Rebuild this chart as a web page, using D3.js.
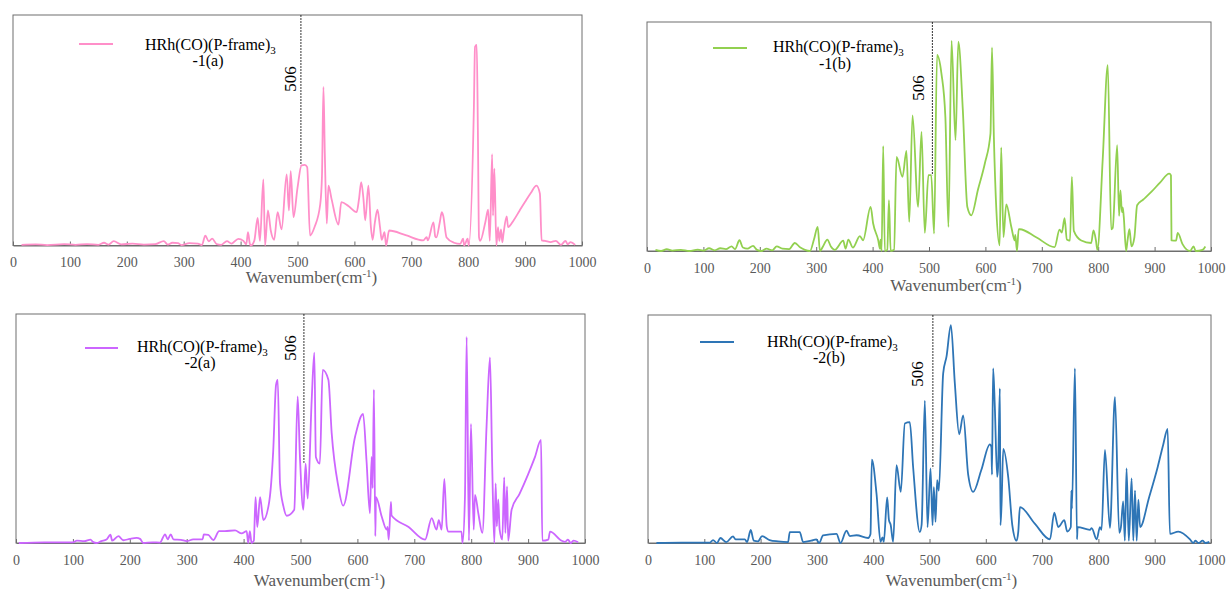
<!DOCTYPE html>
<html>
<head>
<meta charset="utf-8">
<script src="https://cdn.jsdelivr.net/npm/d3@7"></script>
<style>
    body { margin: 0; background: #fff; }
    svg { display: block; }
    svg text { font-family: 'Liberation Serif', 'Times New Roman', serif; }
</style>
</head>
<body>
<div id="chart"></div>
<script>
//
// four spectra panels, HRh(CO)(P-frame)3
//

// x ticks (cm-1)
var xTicks = [0, 100, 200, 300, 400, 500, 600, 700, 800, 900, 1000];
var markerValue = 506;
var seriesNames = ['-1(a)', '-1(b)', '-2(a)', '-2(b)'];
var seriesColors = ['#ff8fc9', '#92d050', '#cc66ff', '#2e75b6'];
// curve height at the 506 marker (relative intensity)
var markerTops = [0.348, 0.331, 0.35, 0.328];

// [wavenumber, relative intensity]
var spec1a = [[15,0.003],[40,0.005],[60,0.002],[90,0.006],[110,0.003],[130,0.006],[150,0.003],[160,0.012],[168,0.004],[177,0.019],[190,0.005],[210,0.008],[230,0.004],[250,0.006],[265,0.019],[272,0.004],[280,0.012],[290,0.01],[296,0.002],[310,0.01],[325,0.008],[332,0.002],[338,0.043],[344,0.018],[350,0.03],[358,0.006],[366,0.003],[376,0.019],[384,0.008],[396,0.029],[405,0.02],[410,0.005],[413,0.058],[416,0.01],[418,0.0],[424,0.02],[430,0.12],[434,0.02],[440,0.287],[443,0.0],[448,0.152],[453,0.065],[459,0.025],[465,0.145],[472,0.07],[481,0.309],[485,0.152],[488,0.323],[493,0.123],[500,0.25],[507,0.348],[513,0.35],[517,0.34],[522,0.043],[530,0.08],[540,0.18],[543,0.3],[545.6,0.688],[548,0.4],[551.5,0.095],[554.4,0.26],[560,0.2],[572,0.091],[577,0.188],[590,0.17],[604,0.145],[608,0.2],[612,0.275],[616,0.2],[619,0.109],[624.6,0.26],[629,0.08],[632,0.025],[636,0.1],[640.5,0.155],[645,0.08],[648,0.025],[653,0.058],[655.7,0.0],[661,0.065],[690,0.045],[721,0.022],[727,0.036],[729,0.022],[739,0.10],[742,0.04],[744,0.035],[750,0.1],[753.6,0.145],[756,0.13],[762,0.035],[775,0.012],[786,0.007],[791,0.03],[793,0.0],[799,0.03],[801,0.0],[810,0.6],[812,0.862],[815,0.87],[817,0.5],[819,0.036],[821,0.02],[830,0.1],[835,0.155],[838,0.02],[842,0.396],[843.6,0.13],[846,0.333],[849.5,0.0],[852.4,0.08],[854.7,0.02],[857.6,0.07],[860,0.014],[862,0.05],[867.7,0.126],[870,0.08],[880,0.11],[890,0.15],[900,0.19],[910,0.228],[920,0.26],[926,0.225],[929,0.022],[935,0.02],[945,0.015],[954,0.02],[963,0.003],[971,0.02],[975,0.005],[980,0.015],[988,0.003]];

var spec1b = [[15,0.005],[25,0.0],[35,0.008],[45,0.002],[60,0.005],[75,0.0],[90,0.006],[100,0.002],[110,0.012],[120,0.003],[130,0.012],[140,0.008],[150,0.02],[156,0.008],[164,0.047],[170,0.015],[178,0.01],[188,0.022],[195,0.005],[203,0.0],[212,0.01],[222,0.003],[230,0.02],[240,0.01],[252,0.008],[262,0.035],[272,0.015],[280,0.005],[289,0.0],[296,0.05],[302.6,0.105],[306.7,0.0],[312,0.02],[319.7,0.05],[326,0.02],[333,0.005],[348,0.045],[352,0.01],[357,0.05],[365,0.015],[377.5,0.065],[383,0.047],[396.5,0.193],[401,0.12],[410,0.047],[413,0.01],[414,0.05],[416,0.0],[418.8,0.458],[421.7,0.0],[426,0.005],[429,0.222],[432,0.0],[438,0.005],[442.5,0.411],[453,0.324],[460,0.437],[465,0.127],[470.8,0.592],[480.7,0.193],[486.7,0.52],[492.6,0.079],[499,0.331],[504,0.331],[509,0.076],[514.3,0.856],[522,0.776],[529,0.586],[534.5,0.105],[540,0.918],[547,0.484],[552,0.914],[560,0.615],[568,0.192],[575,0.156],[587,0.27],[599,0.382],[609,0.513],[611.7,0.889],[615,0.5],[619.5,0.176],[625.3,0.025],[628,0.452],[632,0.061],[637,0.204],[646,0.105],[652,0.046],[653,0.07],[656,0.0],[659,0.095],[661,0.095],[690,0.06],[722.7,0.017],[731.5,0.093],[735.5,0.08],[740.4,0.143],[744.4,0.05],[750,0.045],[753.3,0.324],[756.8,0.088],[770,0.046],[787.6,0.035],[791.6,0.09],[796,0.046],[798.5,0.005],[808,0.4],[817,0.812],[823,0.095],[825.7,0.1],[833.6,0.462],[837,0.153],[839.5,0.265],[842,0.17],[843.5,0.19],[845.3,0.15],[849.5,0.0],[852,0.046],[855.4,0.095],[859,0.02],[864.2,0.06],[869,0.2],[880,0.225],[895,0.26],[910,0.3],[926,0.338],[929,0.33],[930,0.046],[938,0.045],[941,0.079],[949.5,0.03],[963,0.0],[969,0.02],[973,0.0],[985,0.005],[990,0.02]];

var spec2a = [[5,0.0],[50,0.003],[100,0.003],[107,0.01],[120,0.008],[131,0.015],[135,0.005],[142,0.0],[150,0.008],[159,0.015],[166,0.036],[169,0.01],[180,0.03],[188.6,0.012],[200,0.018],[212,0.022],[218,0.018],[223.7,0.0],[240,0.003],[253,0.002],[262,0.038],[266.5,0.016],[272,0.038],[276.5,0.016],[290,0.014],[300,0.008],[311.5,0.016],[328,0.016],[330,0.038],[338,0.035],[346.8,0.013],[357,0.052],[367,0.052],[385,0.055],[396.6,0.042],[405.4,0.052],[408,0.0],[411,0.052],[414,0.0],[418,0.01],[421,0.2],[424,0.07],[429,0.2],[434.7,0.1],[445,0.18],[452,0.4],[457,0.69],[460,0.712],[464,0.26],[470,0.16],[475.7,0.119],[489,0.145],[495,0.64],[499,0.376],[505,0.145],[509,0.347],[512.6,0.194],[519.7,0.626],[524.3,0.831],[527,0.376],[534,0.347],[539,0.756],[549,0.713],[554.8,0.48],[566.5,0.247],[575,0.163],[596,0.465],[610,0.564],[616,0.36],[622,0.13],[625,0.376],[626.8,0.24],[629,0.67],[631.5,0.03],[632.6,0.2],[642.7,0.116],[651.5,0.058],[653,0.07],[655,0.015],[659,0.18],[660,0.12],[690,0.07],[719,0.015],[730.6,0.109],[739,0.058],[743,0.1],[748,0.058],[752.8,0.28],[757,0.073],[760,0.05],[783,0.05],[784.7,0.0],[789,0.2],[792,0.9],[796,0.01],[799.6,0.52],[804.4,0.058],[806.7,0.21],[812.5,0.13],[819.6,0.044],[827,0.51],[833,0.81],[837,0.33],[840.6,0.0],[843,0.26],[845,0.073],[847.6,0.19],[850,0.058],[854.6,0.015],[858,0.287],[860,0.044],[863,0.247],[865,0.01],[871,0.145],[885,0.215],[900,0.3],[912,0.375],[922.7,0.45],[925,0.01],[935.5,0.015],[938.5,0.05],[959,0.01],[965,0.005],[970,0.015],[975,0.0],[980,0.01],[988,0.003]];

var spec2b = [[15,0.0],[60,0.002],[110,0.002],[115.5,0.013],[122.6,0.0],[128.6,0.022],[139,0.004],[151,0.029],[155.5,0.016],[172,0.016],[176,0.004],[182.5,0.057],[187.8,0.01],[195.4,0.007],[202.6,0.03],[216,0.013],[231,0.007],[248.8,0.004],[251.8,0.048],[269.6,0.048],[275.5,0.004],[290,0.01],[299,0.016],[303.9,0.0],[311,0.033],[334.8,0.04],[342,0.0],[352.6,0.054],[358.5,0.03],[370.4,0.034],[391,0.022],[395.2,0.04],[397.5,0.366],[405.9,0.216],[413,0.005],[416.5,0.025],[418.8,0.005],[424.8,0.2],[428,0.1],[431,0.08],[435.4,0.005],[441.4,0.341],[449,0.224],[456.2,0.524],[465,0.53],[471,0.33],[482.8,0.048],[486,0.08],[491.7,0.624],[496.5,0.07],[501.8,0.327],[505.4,0.078],[507.7,0.245],[510.7,0.093],[513.6,0.276],[516.6,0.23],[524.3,0.744],[530.2,0.817],[538,0.956],[545,0.7],[552.7,0.477],[559.8,0.56],[568.7,0.3],[577.6,0.224],[592,0.32],[607.2,0.433],[610,0.42],[611,0.3],[613,0.766],[616,0.6],[620.2,0.29],[621.8,0.33],[625,0.678],[626,0.078],[628,0.17],[631,0.413],[640,0.285],[647,0.08],[654.7,0.01],[657.7,0.05],[660.6,0.157],[687,0.085],[714,0.016],[721.6,0.133],[728.7,0.07],[739.4,0.1],[744.6,0.05],[751,0.07],[752,0.23],[753,0.15],[758.3,0.766],[762,0.016],[763,0.07],[785,0.058],[788,0.065],[797,0.016],[802.7,0.07],[805.6,0.058],[811.6,0.408],[820.5,0.066],[829.4,0.64],[837,0.045],[840,0.07],[844,0.183],[847,0.01],[850,0.327],[854,0.01],[859,0.283],[862,0.01],[865,0.23],[868,0.01],[871,0.19],[874,0.07],[890,0.2],[905,0.33],[915,0.43],[923,0.5],[927,0.04],[942,0.05],[962.7,0.016],[968.6,0.0],[972,0.01],[978,0.0],[985,0.01],[990,0.0],[997,0.005]];

var allSpectra = [spec1a, spec1b, spec2a, spec2b];

// layout of each panel (pixel boxes + legend / label offsets)
var panels = [
    { left: 13,  top: 15,  right: 582,  bottom: 245.5, legLine: [66, 100, 29], legText: [132, 35], legText2: [195, 51], mark: [277, 64], axisX: 14, axisY: 277 },
    { left: 647, top: 22,  right: 1211, bottom: 251,   legLine: [66, 100, 26], legText: [126, 30], legText2: [188, 47], mark: [271, 66], axisX: 27, axisY: 285 },
    { left: 16,  top: 314, right: 585,  bottom: 543,   legLine: [69, 102, 34], legText: [121, 38], legText2: [184, 54], mark: [274, 34], axisX: 19, axisY: 580 },
    { left: 648, top: 315, right: 1211, bottom: 543,   legLine: [52, 86, 27],  legText: [119, 32], legText2: [181, 48], mark: [269, 59], axisX: 22, axisY: 580 }
];

var serif = "'Liberation Serif', 'Times New Roman', serif";
var greyText = '#595959';

var svg = d3.select("#chart")
    .append("svg")
    .attr("width", 1226)
    .attr("height", 589)
    .attr("font-family", serif);

function drawPanel(idx) {
    var p = panels[idx];
    var data = allSpectra[idx];

    var x = d3.scaleLinear().domain([0, 1000]).range([p.left, p.right]);
    var y = d3.scaleLinear().domain([0, 1]).range([p.bottom, p.top]);

    var g = svg.append("g").attr("class", "panel" + idx);

    // frame
    g.append("rect")
        .attr("x", p.left)
        .attr("y", p.top)
        .attr("width", p.right - p.left)
        .attr("height", p.bottom - p.top)
        .attr("fill", "none")
        .attr("stroke", "#6e6e6e")
        .attr("stroke-width", 1);

    // x axis, ticks point inward
    var xAxis = d3.axisBottom(x)
        .tickValues(xTicks)
        .tickSizeInner(-4)
        .tickSizeOuter(0)
        .tickPadding(12)
        .tickFormat(d3.format("d"));

    var ax = g.append("g")
        .attr("transform", "translate(0," + p.bottom + ")")
        .call(xAxis)
        .attr("font-family", serif)
        .attr("font-size", 14);
    ax.select(".domain").attr("stroke", "#6e6e6e");
    ax.selectAll(".tick line").attr("stroke", "#6e6e6e");
    ax.selectAll(".tick text")
        .attr("fill", greyText)
        .style("font-family", serif)
        .style("font-size", "14px");

    // axis title
    var t = g.append("text")
        .attr("x", (p.left + p.right) / 2 + p.axisX)
        .attr("y", p.axisY)
        .attr("dy", "0.35em")
        .attr("text-anchor", "middle")
        .attr("fill", greyText)
        .style("font-family", serif)
        .style("font-size", "17px");
    t.append("tspan").text("Wavenumber(cm");
    t.append("tspan").attr("dy", -6).style("font-size", "11px").text("-1");
    t.append("tspan").attr("dy", 6).text(")");

    // marker line at 506
    g.append("line")
        .attr("x1", x(markerValue))
        .attr("x2", x(markerValue))
        .attr("y1", p.top)
        .attr("y2", y(markerTops[idx]))
        .attr("stroke", "#000")
        .attr("stroke-width", 0.8)
        .attr("stroke-dasharray", "2,1");

    g.append("text")
        .attr("transform", "translate(" + (p.left + p.mark[0]) + "," + (p.top + p.mark[1]) + ") rotate(-90)")
        .attr("text-anchor", "middle")
        .attr("dy", "0.35em")
        .attr("fill", "#000")
        .style("font-family", serif)
        .style("font-size", "17px")
        .text(markerValue);

    // spectrum
    var line = d3.line()
        .x(function (d) { return x(d[0]); })
        .y(function (d) { return y(d[1]); })
        .curve(d3.curveMonotoneX);

    g.append("path")
        .datum(data)
        .attr("d", line)
        .attr("fill", "none")
        .attr("stroke", seriesColors[idx])
        .attr("stroke-width", 1.8)
        .attr("stroke-linejoin", "round");

    // legend
    g.append("line")
        .attr("x1", p.left + p.legLine[0])
        .attr("x2", p.left + p.legLine[1])
        .attr("y1", p.top + p.legLine[2])
        .attr("y2", p.top + p.legLine[2])
        .attr("stroke", seriesColors[idx])
        .attr("stroke-width", 1.8);

    var lt = g.append("text")
        .attr("x", p.left + p.legText[0])
        .attr("y", p.top + p.legText[1])
        .attr("fill", "#000")
        .style("font-family", serif)
        .style("font-size", "16px");
    lt.append("tspan").text("HRh(CO)(P-frame)");
    lt.append("tspan").attr("dy", 4).style("font-size", "11px").text("3");

    g.append("text")
        .attr("x", p.left + p.legText2[0])
        .attr("y", p.top + p.legText2[1])
        .attr("text-anchor", "middle")
        .attr("fill", "#000")
        .style("font-family", serif)
        .style("font-size", "16px")
        .text(seriesNames[idx]);
}

for (var i = 0; i < panels.length; i++) {
    drawPanel(i);
}
</script>
</body>
</html>
